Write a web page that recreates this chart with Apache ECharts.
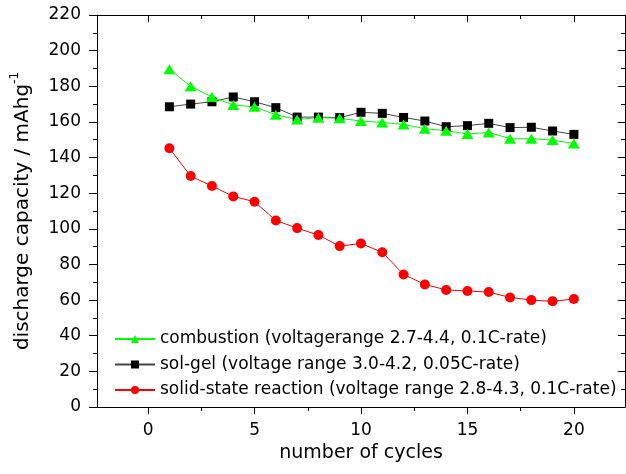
<!DOCTYPE html>
<html>
<head>
<meta charset="utf-8">
<script src="https://cdn.jsdelivr.net/npm/echarts@6/dist/echarts.min.js"></script>
<style>
html,body{margin:0;padding:0;background:#fff;}
#chart{width:626px;height:474px;}
</style>
</head>
<body>
<div id="chart"></div>
<script>
const cycles = [1,2,3,4,5,6,7,8,9,10,11,12,13,14,15,16,17,18,19,20];
const combustion = [189.5,180,174,169.5,168.5,164,161.4,162.4,162,160.5,159.7,158.6,156.2,155.1,153.2,154.1,150.6,150.6,149.8,147.9];
const solGel = [168.5,170,171.3,174,171.3,168,162.7,162.7,162.4,165.4,164.8,162.5,160.5,157.3,157.9,159.2,156.8,157,154.9,153];
const solidState = [145.2,129.6,124,118.2,115.2,104.7,100.4,96.5,90.3,91.8,86.8,74.4,68.8,65.7,65.1,64.5,61.5,60,59.3,60.6];
const xMajorTicks = [0,5,10,15,20];
const xMinorTicks = [2.5,7.5,12.5,17.5];
const seriesNames = [
  'combustion (voltagerange 2.7-4.4, 0.1C-rate)',
  'sol-gel (voltage range 3.0-4.2, 0.05C-rate)',
  'solid-state reaction (voltage range 2.8-4.3, 0.1C-rate)'
];
const xName = 'number of cycles';
const yName = 'discharge capacity / mAhg';
const ySup = '-1';

const FONT = 'DejaVu Sans, Liberation Sans, Arial, sans-serif';
const pair = (vals) => cycles.map((c, i) => [c, vals[i]]);
const X_MIN = -2.4, X_MAX = 22.4;

const chart = echarts.init(document.getElementById('chart'), null, {renderer: 'canvas'});
const black = {color: '#000', width: 1};

const option = {
  animation: false,
  backgroundColor: '#fff',
  textStyle: {fontFamily: FONT},
  grid: {left: 97, right: 1, top: 15, bottom: 67, containLabel: false},
  legend: {
    orient: 'vertical',
    left: 109,
    top: 324,
    itemWidth: 40,
    itemHeight: 10,
    itemGap: 5.5,
    data: seriesNames,
    textStyle: {fontFamily: FONT, fontSize: 17, color: '#000', lineHeight: 20}
  },
  xAxis: [
    {
      type: 'value', min: X_MIN, max: X_MAX, position: 'bottom',
      axisLine: {show: true, onZero: false, lineStyle: black},
      axisTick: {show: true, customValues: xMajorTicks, length: 7, lineStyle: black},
      axisLabel: {show: true, customValues: xMajorTicks, fontSize: 17, color: '#000', margin: 15, fontFamily: FONT},
      splitLine: {show: false},
      name: xName, nameLocation: 'middle', nameGap: 36,
      nameTextStyle: {fontSize: 19, color: '#000', fontFamily: FONT}
    },
    {
      type: 'value', min: X_MIN, max: X_MAX, position: 'bottom',
      axisLine: {show: false, onZero: false},
      axisTick: {show: true, customValues: xMinorTicks, length: 4, lineStyle: black},
      axisLabel: {show: false}, splitLine: {show: false}
    },
    {
      type: 'value', min: X_MIN, max: X_MAX, position: 'top',
      axisLine: {show: true, onZero: false, lineStyle: black},
      axisTick: {show: true, inside: true, customValues: xMajorTicks, length: 7, lineStyle: black},
      axisLabel: {show: false}, splitLine: {show: false}
    },
    {
      type: 'value', min: X_MIN, max: X_MAX, position: 'top',
      axisLine: {show: false, onZero: false},
      axisTick: {show: true, inside: true, customValues: xMinorTicks, length: 4, lineStyle: black},
      axisLabel: {show: false}, splitLine: {show: false}
    }
  ],
  yAxis: [
    {
      type: 'value', min: 0, max: 220, interval: 20, position: 'left',
      axisLine: {show: true, onZero: false, lineStyle: black},
      axisTick: {show: true, length: 8, lineStyle: black},
      minorTick: {show: true, splitNumber: 2, length: 4, lineStyle: black},
      axisLabel: {fontSize: 17, color: '#000', margin: 16, fontFamily: FONT},
      splitLine: {show: false}, minorSplitLine: {show: false},
      name: '{a|' + yName + '}{s|' + ySup + '}',
      nameLocation: 'middle', nameGap: 64,
      nameTextStyle: {
        fontFamily: FONT, fontSize: 20, color: '#000',
        rich: {
          a: {fontFamily: FONT, fontSize: 20, color: '#000', lineHeight: 24, verticalAlign: 'bottom'},
          s: {fontFamily: FONT, fontSize: 12, color: '#000', lineHeight: 24, verticalAlign: 'top', padding: [0, 0, 9, 0]}
        }
      }
    },
    {
      type: 'value', min: 0, max: 220, interval: 20, position: 'right',
      axisLine: {show: true, onZero: false, lineStyle: black},
      axisTick: {show: true, inside: true, length: 7, lineStyle: black},
      minorTick: {show: true, splitNumber: 2, length: 4, lineStyle: black},
      axisLabel: {show: false},
      splitLine: {show: false}, minorSplitLine: {show: false}
    }
  ],
  series: [
    {
      name: seriesNames[2], type: 'line', xAxisIndex: 0, yAxisIndex: 0,
      data: pair(solidState),
      symbol: 'circle', symbolSize: 10, showAllSymbol: true,
      itemStyle: {color: '#ff0000'},
      lineStyle: {color: '#ff0000', width: 1}
    },
    {
      name: seriesNames[1], type: 'line', xAxisIndex: 0, yAxisIndex: 0,
      data: pair(solGel),
      symbol: 'rect', symbolSize: 9, showAllSymbol: true,
      itemStyle: {color: '#000'},
      lineStyle: {color: '#444', width: 1}
    },
    {
      name: seriesNames[0], type: 'line', xAxisIndex: 0, yAxisIndex: 0,
      data: pair(combustion),
      symbol: 'triangle', symbolSize: [12, 10], showAllSymbol: true,
      itemStyle: {color: '#00ff00'},
      lineStyle: {color: '#00ff00', width: 1}
    }
  ]
};
chart.setOption(option);
</script>
</body>
</html>
